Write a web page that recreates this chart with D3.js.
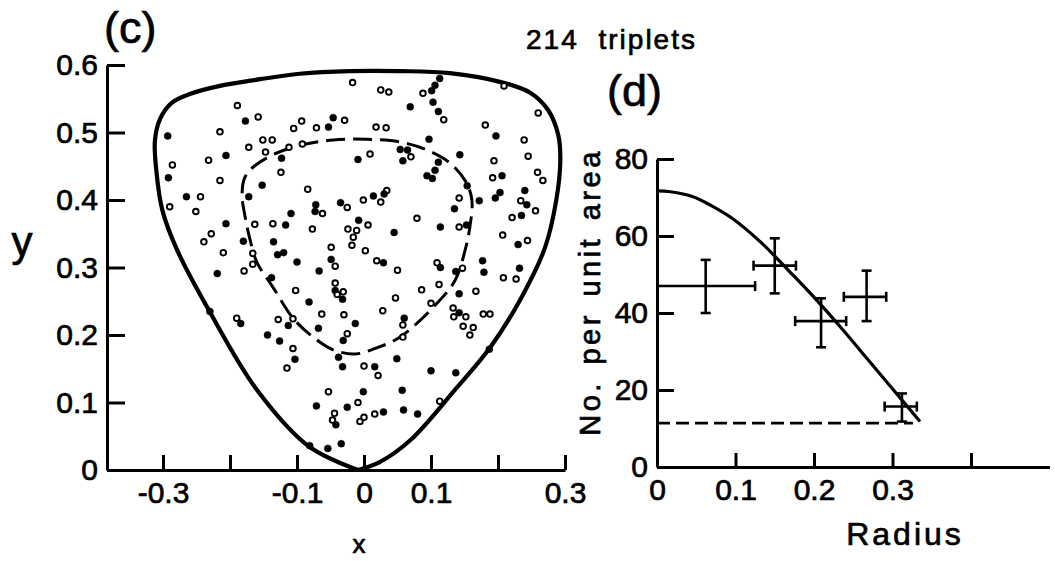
<!DOCTYPE html>
<html><head><meta charset="utf-8">
<script src="https://cdn.jsdelivr.net/npm/d3@7"></script>
<style>
html,body{margin:0;padding:0;background:#fff;}
svg{display:block;}
text{font-family:"Liberation Sans",Arial,sans-serif;fill:#000;stroke:#000;stroke-width:0.7px;}
</style></head>
<body>
<svg id="chart" width="1055" height="561"></svg>
<script>
// ---------- DATA ----------
// Panel (c): Dalitz-type scatter (x, y), kind: f = filled dot, o = open circle
const ptX = [-0.017,0.025,0.037,0.088,0.101,0.106,0.113,0.209,-0.189,0.103,0.069,0.111,0.119,0.260,-0.177,-0.158,-0.093,-0.105,-0.071,-0.053,-0.046,-0.029,0.018,0.033,0.181,-0.293,-0.215,-0.151,-0.137,0.197,0.239,0.097,-0.112,-0.092,-0.172,-0.147,-0.123,0.054,0.065,0.058,0.070,0.143,0.245,-0.232,-0.206,-0.286,-0.009,0.009,0.111,0.106,0.094,0.102,0.194,0.259,0.267,-0.124,-0.292,-0.215,0.192,0.206,-0.152,-0.084,0.034,0.030,0.154,0.240,-0.265,-0.244,-0.172,0.142,0.172,0.196,0.203,0.014,-0.001,0.025,-0.035,-0.025,-0.072,-0.073,-0.062,0.234,0.243,-0.290,0.135,0.235,0.256,-0.109,-0.251,0.079,0.221,-0.206,-0.163,-0.136,-0.117,-0.008,0.006,-0.077,-0.024,-0.011,-0.016,0.114,0.142,0.153,0.045,0.207,-0.228,-0.239,-0.180,-0.135,0.244,0.230,-0.049,-0.018,-0.210,-0.166,-0.129,-0.120,-0.100,-0.049,-0.043,0.002,0.019,0.029,0.050,0.109,0.114,0.137,0.147,0.177,0.179,0.232,-0.219,-0.179,-0.166,-0.138,-0.067,0.208,0.227,-0.102,-0.043,-0.043,-0.031,-0.040,-0.032,0.086,0.112,0.142,0.167,-0.082,0.047,0.028,0.100,0.133,0.142,0.134,0.152,0.178,0.188,-0.230,-0.190,-0.184,-0.128,-0.106,-0.063,-0.030,-0.113,-0.013,-0.068,-0.025,-0.031,0.058,0.060,0.148,0.163,0.158,-0.144,-0.126,-0.106,-0.103,-0.038,0.058,0.049,-0.115,-0.032,0.000,0.016,0.021,0.100,0.137,0.187,-0.053,-0.001,0.057,-0.071,-0.025,-0.009,0.113,-0.044,-0.047,-0.042,-0.006,0.000,0.016,0.029,0.059,0.080,-0.081,-0.054,-0.034];
const ptY = [0.574,0.563,0.560,0.558,0.562,0.570,0.580,0.569,0.540,0.545,0.538,0.531,0.519,0.529,0.517,0.523,0.517,0.506,0.507,0.508,0.522,0.518,0.508,0.507,0.511,0.495,0.501,0.489,0.489,0.495,0.489,0.490,0.478,0.483,0.478,0.471,0.462,0.475,0.474,0.458,0.464,0.467,0.465,0.459,0.466,0.452,0.460,0.468,0.456,0.444,0.436,0.432,0.458,0.441,0.429,0.441,0.433,0.429,0.433,0.436,0.422,0.416,0.414,0.409,0.421,0.414,0.405,0.405,0.405,0.403,0.399,0.403,0.411,0.406,0.400,0.397,0.396,0.389,0.393,0.383,0.380,0.399,0.393,0.390,0.387,0.377,0.384,0.380,0.383,0.373,0.374,0.365,0.364,0.365,0.363,0.370,0.363,0.357,0.357,0.355,0.345,0.360,0.360,0.363,0.352,0.348,0.350,0.338,0.339,0.338,0.340,0.334,0.330,0.333,0.322,0.321,0.319,0.322,0.308,0.312,0.302,0.325,0.310,0.307,0.296,0.307,0.300,0.294,0.299,0.310,0.293,0.299,0.291,0.295,0.305,0.285,0.295,0.285,0.283,0.266,0.277,0.266,0.264,0.260,0.253,0.267,0.275,0.261,0.265,0.249,0.255,0.236,0.247,0.240,0.233,0.227,0.227,0.231,0.231,0.235,0.225,0.217,0.223,0.224,0.231,0.230,0.214,0.217,0.210,0.202,0.192,0.215,0.225,0.213,0.211,0.200,0.200,0.191,0.180,0.164,0.167,0.197,0.165,0.151,0.153,0.154,0.153,0.140,0.147,0.144,0.179,0.116,0.116,0.118,0.095,0.093,0.100,0.102,0.084,0.074,0.067,0.072,0.078,0.083,0.086,0.089,0.083,0.036,0.032,0.039];
const ptKind = "ooooffforfffoofooooffoooofooofofooooffffofoofofoffffoooofooffooffffofoffffoofoffoofoffofooofooffooooofoffoooffofooooffffooofooffoffffooffoooofoofoofofoooofoooofofoooofffofofoooffoffofofofofffoffffoooofoooffffffofofoff".split("");

// Panel (c): kinematic boundary (solid) and inner contour (dashed)
const outerX = [-0.009,-0.081,-0.160,-0.230,-0.279,-0.301,-0.310,-0.312,-0.304,-0.287,-0.260,-0.215,-0.155,-0.096,-0.021,0.054,0.128,0.203,0.248,0.275,0.290,0.293,0.287,0.270,0.233,0.188,0.136,0.069,0.024,-0.009];
const outerY = [0.000,0.034,0.119,0.234,0.326,0.385,0.444,0.489,0.521,0.544,0.557,0.569,0.579,0.587,0.591,0.591,0.588,0.575,0.559,0.533,0.496,0.459,0.400,0.329,0.252,0.181,0.119,0.044,0.012,0.000];
const innerX = [-0.012,-0.046,-0.076,-0.106,-0.136,-0.160,-0.170,-0.178,-0.182,-0.178,-0.164,-0.136,-0.096,-0.046,0.004,0.054,0.094,0.128,0.152,0.161,0.158,0.151,0.136,0.109,0.054,0.019];
const innerY = [0.172,0.178,0.197,0.225,0.271,0.308,0.341,0.378,0.407,0.433,0.450,0.467,0.481,0.489,0.490,0.486,0.474,0.455,0.427,0.400,0.360,0.326,0.281,0.247,0.197,0.181];

const xTicksC = [-0.3,-0.2,-0.1,0,0.1,0.2,0.3];
const xTickLabelsC = ["-0.3","","-0.1","0","0.1","","0.3"];
const yTicksC = [0,0.1,0.2,0.3,0.4,0.5,0.6];
const yTickLabelsC = ["0","0.1","0.2","0.3","0.4","0.5","0.6"];

// Panel (d): density vs radius
const ebR    = [0.062,0.150,0.209,0.267,0.312];
const ebV    = [47.0,52.3,37.9,44.2,15.7];
const ebRlo  = [0.000,0.123,0.176,0.238,0.290];
const ebRhi  = [0.125,0.177,0.241,0.292,0.331];
const ebVlo  = [40.0,45.1,31.1,37.9,11.8];
const ebVhi  = [53.8,59.4,43.8,51.0,19.1];
const curveR = [0,0.017,0.046,0.068,0.097,0.131,0.150,0.165,0.199,0.237,0.267,0.305,0.335];
const curveV = [71.7,71.5,70.2,68.0,64.4,58.6,54.8,51.6,44.3,35.6,28.3,19.1,11.8];
const bgR = [0,0.326];
const bgV = [11.4,11.4];

const xTicksD = [0,0.1,0.2,0.3,0.4];
const xTickLabelsD = ["0","0.1","0.2","0.3",""];
const yTicksD = [0,20,40,60,80];
const yTickLabelsD = ["0","20","40","60","80"];

// ---------- DRAW ----------
const svg = d3.select("#chart");
svg.append("rect").attr("width",1055).attr("height",561).attr("fill","#fff");

// scales panel (c)
const xC = d3.scaleLinear().domain([-0.3,0.3]).range([163,565]);
const yC = d3.scaleLinear().domain([0,0.6]).range([470,65]);
const xCaxis = xC.copy().domain([xC.invert(107),0.3]).range([107,565]);

// scales panel (d)
const xD = d3.scaleLinear().domain([0,0.5]).range([657,1049.5]);
const yD = d3.scaleLinear().domain([0,80]).range([467,159]);

function styleAxis(g){
  g.selectAll("path.domain").attr("stroke","#000").attr("stroke-width",3);
  g.selectAll(".tick line").attr("stroke","#000").attr("stroke-width",3);
  g.selectAll(".tick text").attr("font-size",30).attr("font-family",'"Liberation Sans",Arial,sans-serif').attr("fill","#000");
}

// axes (c)
svg.append("g").attr("transform","translate(0,470)")
  .call(d3.axisBottom(xCaxis).tickValues(xTicksC).tickSize(-15).tickSizeOuter(0).tickPadding(12)
    .tickFormat((d,i)=>xTickLabelsC[i]))
  .call(styleAxis);
svg.append("g").attr("transform","translate(107,0)")
  .call(d3.axisLeft(yC).tickValues(yTicksC).tickSize(-18).tickSizeOuter(0).tickPadding(9)
    .tickFormat((d,i)=>yTickLabelsC[i]))
  .call(styleAxis);

// boundary curves (c)
const outerLine = d3.line().x(d=>xC(d[0])).y(d=>yC(d[1])).curve(d3.curveCatmullRom.alpha(0.5));
svg.append("path").datum(outerX.map((x,i)=>[x,outerY[i]]))
  .attr("d",outerLine).attr("fill","none").attr("stroke","#000").attr("stroke-width",4.2)
  .attr("stroke-linejoin","round");
const innerLine = d3.line().x(d=>xC(d[0])).y(d=>yC(d[1])).curve(d3.curveCatmullRomClosed.alpha(0.5));
svg.append("path").datum(innerX.map((x,i)=>[x,innerY[i]]))
  .attr("d",innerLine).attr("fill","none").attr("stroke","#000").attr("stroke-width",3)
  .attr("stroke-dasharray","19,8");

// points (c)
const pts = ptX.map((x,i)=>({x, y:ptY[i], k:ptKind[i]}));
svg.append("g").selectAll("circle").data(pts).join("circle")
  .attr("cx",d=>xC(d.x)).attr("cy",d=>yC(d.y))
  .attr("r",d=>d.k==="f"?3.5:2.8)
  .attr("fill",d=>d.k==="f"?"#000":"#fff")
  .attr("stroke","#000").attr("stroke-width",d=>d.k==="f"?0.5:1.9);

// labels (c)
svg.append("text").attr("x",104).attr("y",43).attr("font-size",45).text("(c)");
svg.append("text").attr("x",22).attr("y",256).attr("text-anchor","middle").attr("font-size",42).text("y");
svg.append("text").attr("x",359).attr("y",553).attr("text-anchor","middle").attr("font-size",26).text("x");
svg.append("text").attr("x",526).attr("y",49).attr("font-size",28)
  .attr("letter-spacing",2).attr("word-spacing",10).text("214 triplets");

// axes (d)
svg.append("g").attr("transform","translate(0,467)")
  .call(d3.axisBottom(xD).tickValues(xTicksD).tickSize(-14).tickSizeOuter(0).tickPadding(12)
    .tickFormat((d,i)=>xTickLabelsD[i]))
  .call(styleAxis);
svg.append("g").attr("transform","translate(657,0)")
  .call(d3.axisLeft(yD).tickValues(yTicksD).tickSize(-17).tickSizeOuter(0).tickPadding(9)
    .tickFormat((d,i)=>yTickLabelsD[i]))
  .call(styleAxis);

// background dashed level (d)
svg.append("path").datum(bgR.map((r,i)=>[r,bgV[i]]))
  .attr("d",d3.line().x(d=>xD(d[0])).y(d=>yD(d[1])))
  .attr("fill","none").attr("stroke","#000").attr("stroke-width",2.6).attr("stroke-dasharray","13,6");

// fitted curve (d)
svg.append("path").datum(curveR.map((r,i)=>[r,curveV[i]]))
  .attr("d",d3.line().x(d=>xD(d[0])).y(d=>yD(d[1])).curve(d3.curveCatmullRom.alpha(0.5)))
  .attr("fill","none").attr("stroke","#000").attr("stroke-width",3.2);

// error bars (d)
const eb = svg.append("g").attr("stroke","#000").attr("stroke-width",2.6);
const cap = 5;
ebR.forEach((r,i)=>{
  const cx = xD(r), cy = yD(ebV[i]);
  const x0 = xD(ebRlo[i]), x1 = xD(ebRhi[i]);
  const y0 = yD(ebVlo[i]), y1 = yD(ebVhi[i]);
  eb.append("line").attr("x1",x0).attr("x2",x1).attr("y1",cy).attr("y2",cy);
  eb.append("line").attr("x1",cx).attr("x2",cx).attr("y1",y0).attr("y2",y1);
  eb.append("line").attr("x1",cx-cap).attr("x2",cx+cap).attr("y1",y0).attr("y2",y0);
  eb.append("line").attr("x1",cx-cap).attr("x2",cx+cap).attr("y1",y1).attr("y2",y1);
  if (ebRlo[i] > 0) eb.append("line").attr("x1",x0).attr("x2",x0).attr("y1",cy-cap).attr("y2",cy+cap);
  eb.append("line").attr("x1",x1).attr("x2",x1).attr("y1",cy-cap).attr("y2",cy+cap);
});

// labels (d)
svg.append("text").attr("x",607).attr("y",106).attr("font-size",45).text("(d)");
svg.append("text").attr("x",905).attr("y",545).attr("text-anchor","middle").attr("font-size",32)
  .attr("letter-spacing",3).text("Radius");
svg.append("text").attr("transform","translate(600,292) rotate(-90)").attr("text-anchor","middle")
  .attr("font-size",29).attr("letter-spacing",3.5).attr("word-spacing",4).text("No. per unit area");
</script>
</body></html>
